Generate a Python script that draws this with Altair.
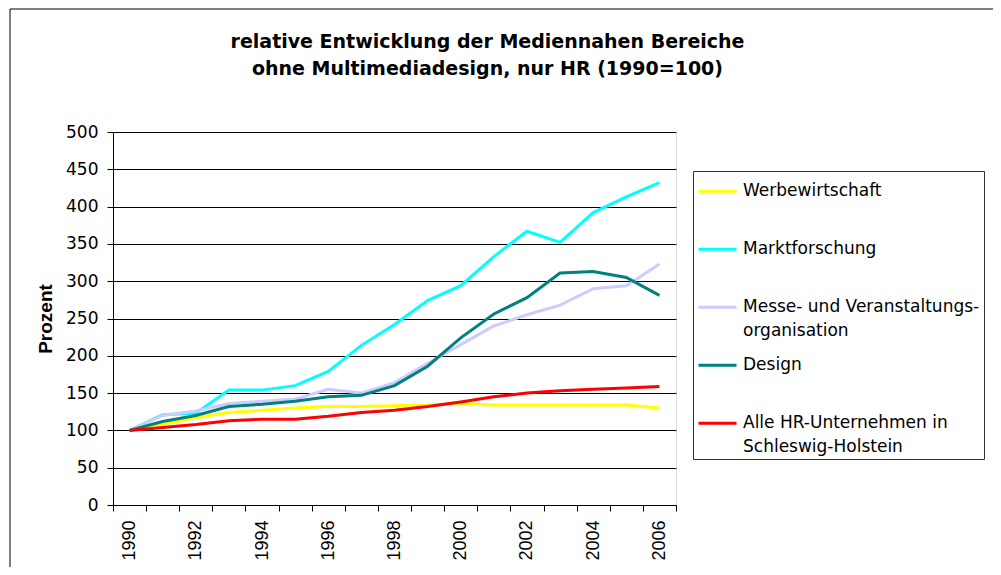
import altair as alt
import pandas as pd

years = list(range(1990, 2007))

werbewirtschaft = [100, 108, 117, 124, 127, 130, 132, 132, 133, 134, 136, 134, 134, 134, 134, 134, 130]
marktforschung = [100, 121, 123, 154, 154, 160, 179, 214, 242, 274, 294, 333, 367, 352, 392, 413, 432]
messe = [100, 120, 126, 136, 139, 142, 155, 150, 164, 190, 215, 240, 255, 268, 290, 294, 323]
design = [100, 112, 120, 132, 135, 139, 145, 147, 160, 186, 224, 256, 278, 311, 313, 305, 281]
alle_hr = [100, 104, 108, 113, 115, 115, 119, 124, 127, 132, 138, 145, 150, 153, 155, 157, 159]

series_names = [
    "Werbewirtschaft",
    "Marktforschung",
    "Messe- und Veranstaltungs-\norganisation",
    "Design",
    "Alle HR-Unternehmen in\nSchleswig-Holstein",
]
series_colors = ["#FFFF00", "#00FFFF", "#CCCCFF", "#008080", "#FF0000"]
series_values = [werbewirtschaft, marktforschung, messe, design, alle_hr]

title_lines = [
    "relative Entwicklung der Mediennahen Bereiche",
    "ohne Multimediadesign, nur HR (1990=100)",
]
y_ticks = list(range(0, 501, 50))

rows = []
for name, vals in zip(series_names, series_values):
    for yr, v in zip(years, vals):
        rows.append({"Jahr": str(yr), "Wert": v, "Reihe": name})
df = pd.DataFrame(rows)

FONT = "Liberation Sans"
WIDE = "DejaVu Sans"

lines = alt.Chart(df).mark_line(strokeWidth=3, clip=False).encode(
    x=alt.X(
        "Jahr:O",
        sort=[str(y) for y in years],
        scale=alt.Scale(type="band", paddingInner=0, paddingOuter=0),
        axis=alt.Axis(
            title=None,
            labelAngle=270,
            labelAlign="right",
            labelBaseline="middle",
            labelFont=FONT,
            labelFontSize=18,
            labelColor="black",
            labelPadding=9,
            labelExpr="toNumber(datum.value) % 2 == 0 ? datum.label : ''",
            tickBand="extent",
            tickSize=6,
            tickColor="black",
            domainColor="black",
            grid=False,
        ),
    ),
    y=alt.Y(
        "Wert:Q",
        scale=alt.Scale(domain=[0, 500], nice=False),
        axis=alt.Axis(
            values=y_ticks,
            title="Prozent",
            titleFont=FONT,
            titleFontSize=19,
            titleFontWeight="bold",
            titleColor="black",
            titlePadding=10,
            labelFont=WIDE,
            labelFontSize=17,
            labelColor="black",
            labelPadding=9,
            tickSize=6,
            tickColor="black",
            domainColor="black",
            grid=True,
            gridColor="#000000",
            gridWidth=1,
        ),
    ),
    color=alt.Color(
        "Reihe:N",
        scale=alt.Scale(domain=series_names, range=series_colors),
        sort=series_names,
        legend=alt.Legend(
            title=None,
            orient="none",
            direction="vertical",
            legendX=580,
            legendY=39,
            symbolType="M-1,-0.23L1,-0.23",
            symbolSize=1444,
            symbolStrokeWidth=3,
            labelFont=WIDE,
            labelFontSize=17,
            labelColor="black",
            labelBaseline="alphabetic",
            labelOffset=5,
            labelLimit=400,
            labelExpr="split(datum.label, '\\n')",
            rowPadding=10,
            padding=4,
            strokeColor="#333333",
            gridAlign="all",
        ),
    ),
    order=alt.Order("Jahr:O"),
)

border = alt.Chart(alt.Data(values=[{"b": 1}])).mark_rect(
    fill="transparent", stroke="black", strokeWidth=1, clip=False
).encode(
    x=alt.value(-103), y=alt.value(-123), x2=alt.value(950), y2=alt.value(620)
)

chart = alt.layer(border, lines).properties(
    width=563,
    height=373,
    title=alt.TitleParams(
        text=title_lines,
        font=WIDE,
        fontSize=19,
        fontWeight="bold",
        color="black",
        anchor="middle",
        dx=93,
        offset=-70,
        lineHeight=27,
    ),
    autosize=alt.AutoSizeParams(type="none"),
    padding={"left": 105, "top": 124, "right": 317, "bottom": 62},
).configure_view(
    stroke="#808080", strokeWidth=1
).configure(
    background="white",
    style={"guide-label": {"lineHeight": 24}},
)

chart.save("out.html", embed_options={"renderer": "svg", "actions": False})
